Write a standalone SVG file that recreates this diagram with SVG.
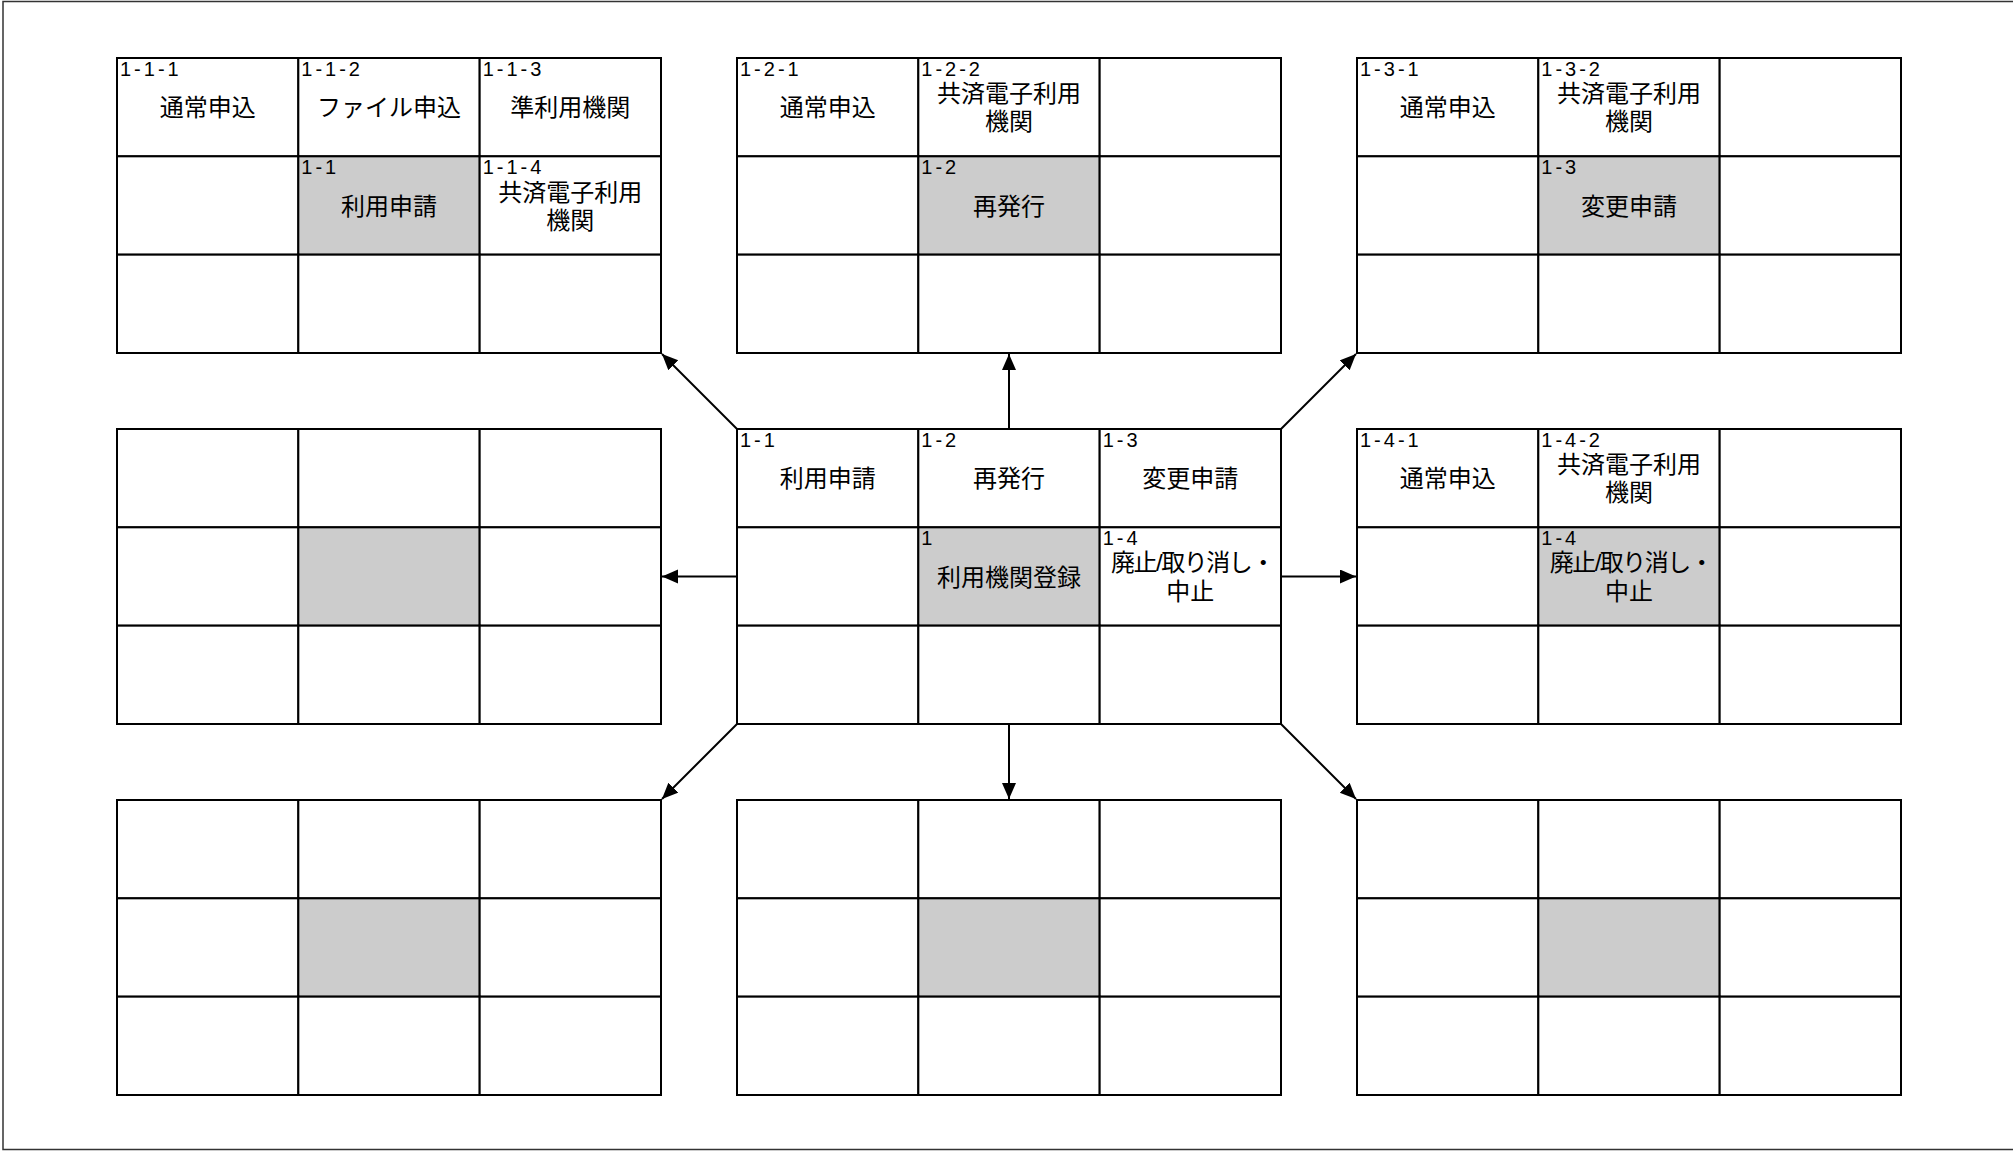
<svg xmlns="http://www.w3.org/2000/svg" width="2013" height="1151" viewBox="0 0 2013 1151">
<style>
.c{fill:#fff;stroke:#000;stroke-width:2}
.g{fill:#ccc;stroke:#000;stroke-width:2}
.lb{font-family:"Liberation Sans","Noto Sans CJK JP",sans-serif;font-size:20px;letter-spacing:3px;fill:#000}
.t{font-family:"Liberation Sans","Noto Sans CJK JP",sans-serif;font-size:24px;text-anchor:middle;fill:#000}
.ts{font-family:"Liberation Sans","Noto Sans CJK JP",sans-serif;font-size:24px;letter-spacing:-1.5px;fill:#000}
.cn{stroke:#000;stroke-width:2;fill:none;marker-end:url(#ah)}
</style>
<defs>
<marker id="ah" markerUnits="userSpaceOnUse" markerWidth="18" markerHeight="16" refX="16" refY="7" orient="auto">
<path d="M0,0 L16,7 L0,14 z" fill="#000"/>
</marker>
</defs>
<rect x="0" y="0" width="2013" height="1151" fill="#fff"/>
<rect x="3" y="1.5" width="2012" height="1148" fill="none" stroke="#333" stroke-width="1.5"/>

<!-- Grid top-left -->
<g id="grid-1-1">
<g id="n-1-1-1"><rect class="c" x="117" y="58" width="181.33" height="98.33"/><text class="lb" x="120" y="76">1-1-1</text><text class="t" x="207.7" y="116.2">通常申込</text></g>
<g id="n-1-1-2"><rect class="c" x="298.33" y="58" width="181.33" height="98.33"/><text class="lb" x="301.3" y="76">1-1-2</text><text class="t" x="389" y="116.2">ファイル申込</text></g>
<g id="n-1-1-3"><rect class="c" x="479.67" y="58" width="181.33" height="98.33"/><text class="lb" x="482.7" y="76">1-1-3</text><text class="t" x="570.3" y="116.2">準利用機関</text></g>
<g id="a-r1c0"><rect class="c" x="117" y="156.33" width="181.33" height="98.33"/></g>
<g id="n-1-1c"><rect class="g" x="298.33" y="156.33" width="181.33" height="98.33"/><text class="lb" x="301.3" y="174.3">1-1</text><text class="t" x="389" y="214.5">利用申請</text></g>
<g id="n-1-1-4"><rect class="c" x="479.67" y="156.33" width="181.33" height="98.33"/><text class="lb" x="482.7" y="174.3">1-1-4</text><text class="t" x="570.3" y="200.5">共済電子利用</text><text class="t" x="570.3" y="228.5">機関</text></g>
<g id="a-r2c0"><rect class="c" x="117" y="254.67" width="181.33" height="98.33"/></g>
<g id="a-r2c1"><rect class="c" x="298.33" y="254.67" width="181.33" height="98.33"/></g>
<g id="a-r2c2"><rect class="c" x="479.67" y="254.67" width="181.33" height="98.33"/></g>
</g>

<!-- Grid top-middle -->
<g id="grid-1-2">
<g id="n-1-2-1"><rect class="c" x="737" y="58" width="181.33" height="98.33"/><text class="lb" x="740" y="76">1-2-1</text><text class="t" x="827.7" y="116.2">通常申込</text></g>
<g id="n-1-2-2"><rect class="c" x="918.33" y="58" width="181.33" height="98.33"/><text class="lb" x="921.3" y="76">1-2-2</text><text class="t" x="1009" y="102.2">共済電子利用</text><text class="t" x="1009" y="130.2">機関</text></g>
<g id="b-r0c2"><rect class="c" x="1099.67" y="58" width="181.33" height="98.33"/></g>
<g id="b-r1c0"><rect class="c" x="737" y="156.33" width="181.33" height="98.33"/></g>
<g id="n-1-2c"><rect class="g" x="918.33" y="156.33" width="181.33" height="98.33"/><text class="lb" x="921.3" y="174.3">1-2</text><text class="t" x="1009" y="214.5">再発行</text></g>
<g id="b-r1c2"><rect class="c" x="1099.67" y="156.33" width="181.33" height="98.33"/></g>
<g id="b-r2c0"><rect class="c" x="737" y="254.67" width="181.33" height="98.33"/></g>
<g id="b-r2c1"><rect class="c" x="918.33" y="254.67" width="181.33" height="98.33"/></g>
<g id="b-r2c2"><rect class="c" x="1099.67" y="254.67" width="181.33" height="98.33"/></g>
</g>

<!-- Grid top-right -->
<g id="grid-1-3">
<g id="n-1-3-1"><rect class="c" x="1357" y="58" width="181.33" height="98.33"/><text class="lb" x="1360" y="76">1-3-1</text><text class="t" x="1447.7" y="116.2">通常申込</text></g>
<g id="n-1-3-2"><rect class="c" x="1538.33" y="58" width="181.33" height="98.33"/><text class="lb" x="1541.3" y="76">1-3-2</text><text class="t" x="1629" y="102.2">共済電子利用</text><text class="t" x="1629" y="130.2">機関</text></g>
<g id="c-r0c2"><rect class="c" x="1719.67" y="58" width="181.33" height="98.33"/></g>
<g id="c-r1c0"><rect class="c" x="1357" y="156.33" width="181.33" height="98.33"/></g>
<g id="n-1-3c"><rect class="g" x="1538.33" y="156.33" width="181.33" height="98.33"/><text class="lb" x="1541.3" y="174.3">1-3</text><text class="t" x="1629" y="214.5">変更申請</text></g>
<g id="c-r1c2"><rect class="c" x="1719.67" y="156.33" width="181.33" height="98.33"/></g>
<g id="c-r2c0"><rect class="c" x="1357" y="254.67" width="181.33" height="98.33"/></g>
<g id="c-r2c1"><rect class="c" x="1538.33" y="254.67" width="181.33" height="98.33"/></g>
<g id="c-r2c2"><rect class="c" x="1719.67" y="254.67" width="181.33" height="98.33"/></g>
</g>

<!-- Grid middle-left -->
<g id="grid-ml">
<rect class="c" x="117" y="429" width="181.33" height="98.33"/>
<rect class="c" x="298.33" y="429" width="181.33" height="98.33"/>
<rect class="c" x="479.67" y="429" width="181.33" height="98.33"/>
<rect class="c" x="117" y="527.33" width="181.33" height="98.33"/>
<rect class="g" x="298.33" y="527.33" width="181.33" height="98.33"/>
<rect class="c" x="479.67" y="527.33" width="181.33" height="98.33"/>
<rect class="c" x="117" y="625.67" width="181.33" height="98.33"/>
<rect class="c" x="298.33" y="625.67" width="181.33" height="98.33"/>
<rect class="c" x="479.67" y="625.67" width="181.33" height="98.33"/>
</g>

<!-- Center grid -->
<g id="grid-center">
<g id="n-c-1-1"><rect class="c" x="737" y="429" width="181.33" height="98.33"/><text class="lb" x="740" y="447">1-1</text><text class="t" x="827.7" y="487.2">利用申請</text></g>
<g id="n-c-1-2"><rect class="c" x="918.33" y="429" width="181.33" height="98.33"/><text class="lb" x="921.3" y="447">1-2</text><text class="t" x="1009" y="487.2">再発行</text></g>
<g id="n-c-1-3"><rect class="c" x="1099.67" y="429" width="181.33" height="98.33"/><text class="lb" x="1102.7" y="447">1-3</text><text class="t" x="1190.3" y="487.2">変更申請</text></g>
<g id="m-r1c0"><rect class="c" x="737" y="527.33" width="181.33" height="98.33"/></g>
<g id="n-1"><rect class="g" x="918.33" y="527.33" width="181.33" height="98.33"/><text class="lb" x="921.3" y="545.3">1</text><text class="t" x="1009" y="585.5">利用機関登録</text></g>
<g id="n-c-1-4"><rect class="c" x="1099.67" y="527.33" width="181.33" height="98.33"/><text class="lb" x="1102.7" y="545.3">1-4</text><text class="ts" x="1111" y="571">廃止/取り消し・</text><text class="t" x="1190.3" y="600">中止</text></g>
<g id="m-r2c0"><rect class="c" x="737" y="625.67" width="181.33" height="98.33"/></g>
<g id="m-r2c1"><rect class="c" x="918.33" y="625.67" width="181.33" height="98.33"/></g>
<g id="m-r2c2"><rect class="c" x="1099.67" y="625.67" width="181.33" height="98.33"/></g>
</g>

<!-- Grid middle-right -->
<g id="grid-1-4">
<g id="n-1-4-1"><rect class="c" x="1357" y="429" width="181.33" height="98.33"/><text class="lb" x="1360" y="447">1-4-1</text><text class="t" x="1447.7" y="487.2">通常申込</text></g>
<g id="n-1-4-2"><rect class="c" x="1538.33" y="429" width="181.33" height="98.33"/><text class="lb" x="1541.3" y="447">1-4-2</text><text class="t" x="1629" y="473.2">共済電子利用</text><text class="t" x="1629" y="501.2">機関</text></g>
<g id="d-r0c2"><rect class="c" x="1719.67" y="429" width="181.33" height="98.33"/></g>
<g id="d-r1c0"><rect class="c" x="1357" y="527.33" width="181.33" height="98.33"/></g>
<g id="n-1-4c"><rect class="g" x="1538.33" y="527.33" width="181.33" height="98.33"/><text class="lb" x="1541.3" y="545.3">1-4</text><text class="ts" x="1549.7" y="571">廃止/取り消し・</text><text class="t" x="1629" y="600">中止</text></g>
<g id="d-r1c2"><rect class="c" x="1719.67" y="527.33" width="181.33" height="98.33"/></g>
<g id="d-r2c0"><rect class="c" x="1357" y="625.67" width="181.33" height="98.33"/></g>
<g id="d-r2c1"><rect class="c" x="1538.33" y="625.67" width="181.33" height="98.33"/></g>
<g id="d-r2c2"><rect class="c" x="1719.67" y="625.67" width="181.33" height="98.33"/></g>
</g>

<!-- Bottom grids -->
<g id="grid-bl">
<rect class="c" x="117" y="800" width="181.33" height="98.33"/>
<rect class="c" x="298.33" y="800" width="181.33" height="98.33"/>
<rect class="c" x="479.67" y="800" width="181.33" height="98.33"/>
<rect class="c" x="117" y="898.33" width="181.33" height="98.33"/>
<rect class="g" x="298.33" y="898.33" width="181.33" height="98.33"/>
<rect class="c" x="479.67" y="898.33" width="181.33" height="98.33"/>
<rect class="c" x="117" y="996.67" width="181.33" height="98.33"/>
<rect class="c" x="298.33" y="996.67" width="181.33" height="98.33"/>
<rect class="c" x="479.67" y="996.67" width="181.33" height="98.33"/>
</g>
<g id="grid-bm">
<rect class="c" x="737" y="800" width="181.33" height="98.33"/>
<rect class="c" x="918.33" y="800" width="181.33" height="98.33"/>
<rect class="c" x="1099.67" y="800" width="181.33" height="98.33"/>
<rect class="c" x="737" y="898.33" width="181.33" height="98.33"/>
<rect class="g" x="918.33" y="898.33" width="181.33" height="98.33"/>
<rect class="c" x="1099.67" y="898.33" width="181.33" height="98.33"/>
<rect class="c" x="737" y="996.67" width="181.33" height="98.33"/>
<rect class="c" x="918.33" y="996.67" width="181.33" height="98.33"/>
<rect class="c" x="1099.67" y="996.67" width="181.33" height="98.33"/>
</g>
<g id="grid-br">
<rect class="c" x="1357" y="800" width="181.33" height="98.33"/>
<rect class="c" x="1538.33" y="800" width="181.33" height="98.33"/>
<rect class="c" x="1719.67" y="800" width="181.33" height="98.33"/>
<rect class="c" x="1357" y="898.33" width="181.33" height="98.33"/>
<rect class="g" x="1538.33" y="898.33" width="181.33" height="98.33"/>
<rect class="c" x="1719.67" y="898.33" width="181.33" height="98.33"/>
<rect class="c" x="1357" y="996.67" width="181.33" height="98.33"/>
<rect class="c" x="1538.33" y="996.67" width="181.33" height="98.33"/>
<rect class="c" x="1719.67" y="996.67" width="181.33" height="98.33"/>
</g>

<!-- Connectors -->
<g id="connectors">
<line class="cn" x1="737" y1="429" x2="662" y2="354"/>
<line class="cn" x1="1009" y1="429" x2="1009" y2="354"/>
<line class="cn" x1="1281" y1="429" x2="1356" y2="354"/>
<line class="cn" x1="737" y1="576.5" x2="662" y2="576.5"/>
<line class="cn" x1="1281" y1="576.5" x2="1356" y2="576.5"/>
<line class="cn" x1="737" y1="724" x2="662" y2="799"/>
<line class="cn" x1="1009" y1="724" x2="1009" y2="799"/>
<line class="cn" x1="1281" y1="724" x2="1356" y2="799"/>
</g>
</svg>
